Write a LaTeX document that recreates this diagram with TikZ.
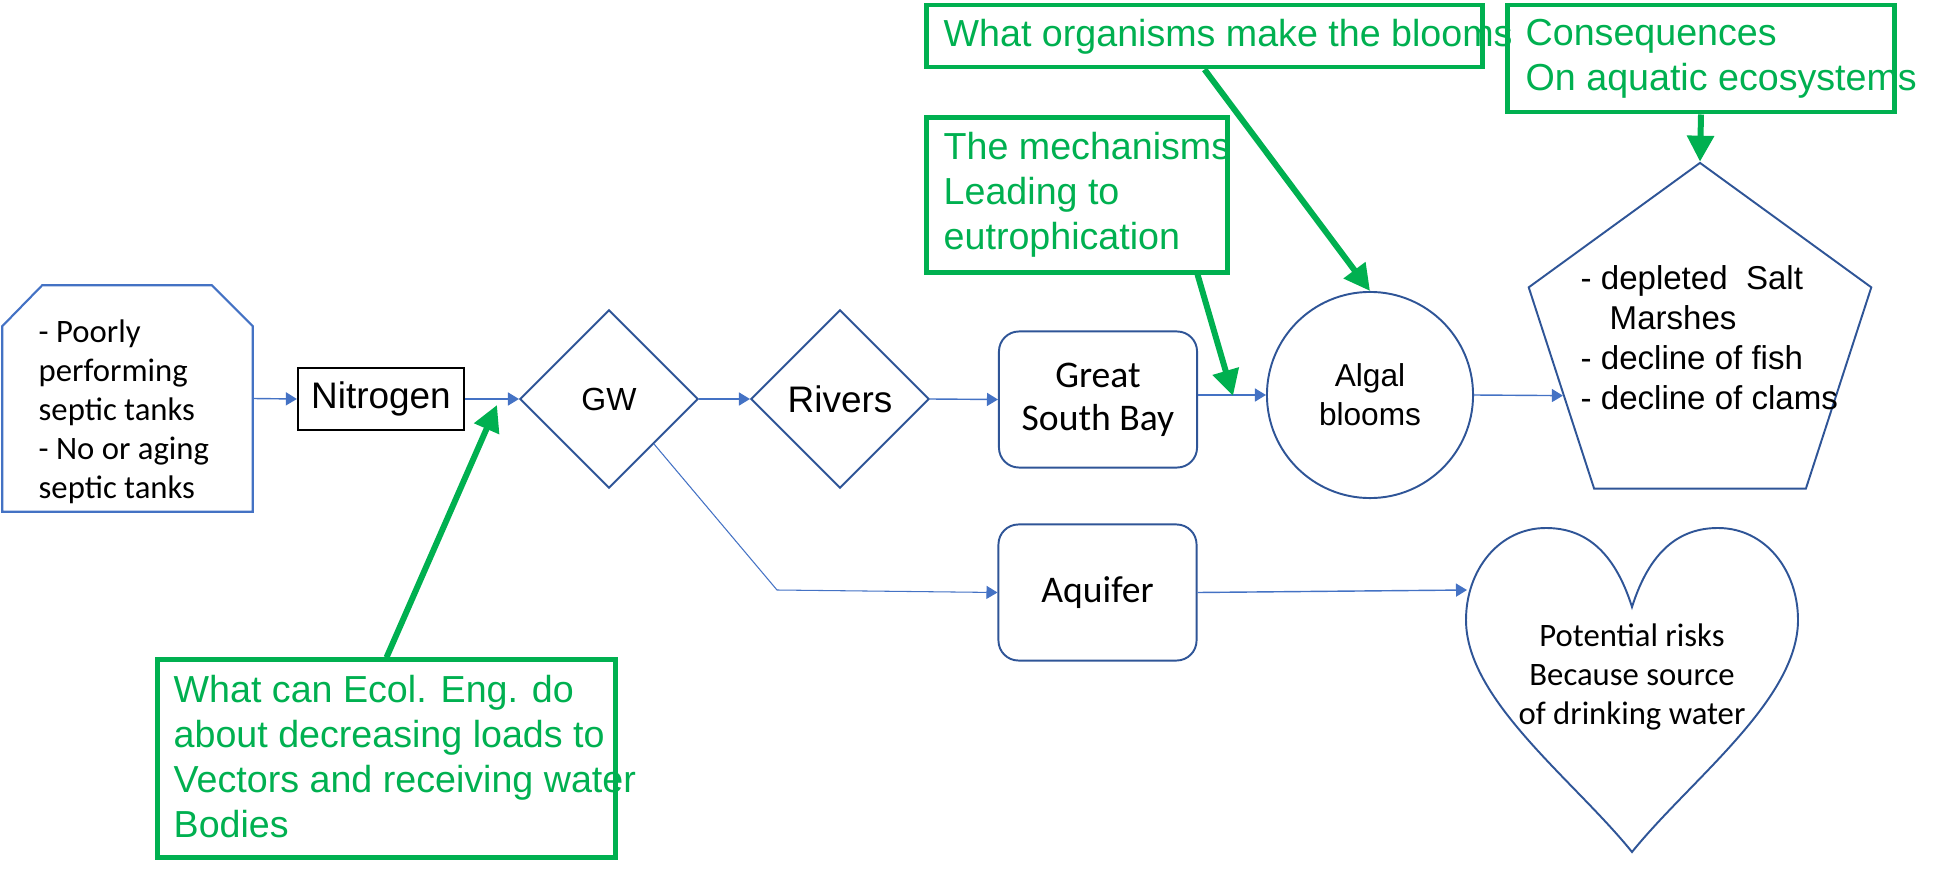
\documentclass[tikz,border=0pt]{standalone}
\usepackage{fontspec}
\setmainfont{Carlito}
\newfontfamily\arialfont{Liberation Sans}
\usetikzlibrary{arrows.meta,shapes.geometric}
\definecolor{shapeblue}{HTML}{2F5597}
\definecolor{linkblue}{HTML}{4472C4}
\definecolor{notegreen}{HTML}{00B050}
\tikzset{
  shapeline/.style={draw=shapeblue,line width=0.55pt},
  roundbox/.style={shapeline,rounded corners=0.2cm,minimum width=1.98cm,minimum height=1.36cm,inner sep=0pt,align=center,font=\fontsize{10.7pt}{12.2pt}\selectfont},
  waterbody/.style={shapeline,diamond,minimum width=1.78cm,minimum height=1.78cm,inner sep=0pt,font=\arialfont\fontsize{10.5pt}{12pt}\selectfont},
  flow/.style={draw=linkblue,line width=0.4pt,-{Triangle[length=1.1mm,width=1.3mm]}},
  notebox/.style={draw=notegreen,line width=1.4pt,inner sep=0pt},
  notetext/.style={text=notegreen,anchor=west,align=left,inner sep=0pt,font=\arialfont\fontsize{10.7pt}{12.8pt}\selectfont},
  notearrow/.style={draw=notegreen,line width=1.7pt,-{Triangle[length=2.6mm,width=2.6mm]}}
}
\begin{document}
\begin{tikzpicture}[x=0.01cm,y=-0.01cm]
\useasboundingbox (0,0) rectangle (1939,870);
\node (septic) [minimum width=2.49cm,minimum height=2.25cm,inner sep=0pt] at (127.5,398.5) {};
\draw[draw=linkblue,line width=0.6pt] (septic.south west) -- ([yshift=-0.41cm]septic.north west) -- ([xshift=0.4cm]septic.north west) -- ([xshift=-0.41cm]septic.north east) -- ([yshift=-0.41cm]septic.north east) -- (septic.south east) -- cycle;
\node (septictext) [anchor=west,align=left,inner sep=0pt,font=\fontsize{9.3pt}{11.1pt}\selectfont] at (38,412) {- Poorly\\performing\\septic tanks\\- No or aging\\septic tanks};
\node (nitrogen) [draw=black,line width=0.6pt,minimum width=1.66cm,minimum height=0.62cm,inner sep=0pt,font=\arialfont\fontsize{10.5pt}{12pt}\selectfont] at (381,399) {Nitrogen};
\node (gw) [waterbody,font=\arialfont\fontsize{9.1pt}{11pt}\selectfont] at (609,399) {GW};
\node (rivers) [waterbody] at (840,399) {Rivers};
\node (gsb) [roundbox] at (1098,399.5) {Great\\South Bay};
\node (algal) [shapeline,circle,minimum size=2.06cm,inner sep=0pt,align=center,font=\arialfont\fontsize{9pt}{11.1pt}\selectfont] at (1370,395) {Algal\\blooms};
\node (penta) [shapeline,regular polygon,regular polygon sides=5,minimum size=3.6cm,inner sep=0pt] at (1700,343) {};
\node (pentatext) [anchor=west,align=left,inner sep=0pt,font=\arialfont\fontsize{9.4pt}{11.4pt}\selectfont] at (1580,338) {- depleted\ \ Salt\\\hspace*{2.9mm}Marshes\\- decline of fish\\- decline of clams};
\node (aquifer) [roundbox] at (1097.5,592.5) {Aquifer};
\draw[shapeline] (1632,607) .. controls (1650,550) and (1680,528) .. (1718,528)
  .. controls (1765,528) and (1798,570) .. (1798,620)
  .. controls (1798,700) and (1690,780) .. (1632,852)
  .. controls (1574,780) and (1466,700) .. (1466,620)
  .. controls (1466,570) and (1499,528) .. (1546,528)
  .. controls (1584,528) and (1614,550) .. (1632,607) -- cycle;
\node (heart) [align=center,inner sep=0pt,font=\fontsize{9.3pt}{11.2pt}\selectfont] at (1632,677) {Potential risks\\Because source\\of drinking water};
\coordinate (gwbend) at (777,590);
\coordinate (heartin) at (1467,590);
\draw[flow] (septic.east) -- (nitrogen.west);
\draw[flow] (nitrogen.east) -- (gw.west);
\draw[flow] (gw.east) -- (rivers.west);
\draw[flow] (rivers.east) -- (gsb.west);
\draw[flow] (gsb.east |- algal.west) -- (algal.west);
\draw[flow] (algal.east) -- (penta.201);
\draw[flow,line width=0.3pt] (gw.south east) -- (gwbend) -- (aquifer.west);
\draw[flow] (aquifer.east) -- (heartin);
\node (ecol) [notebox,minimum width=4.57cm,minimum height=1.97cm] at (386.5,758.5) {};
\node (ecoltext) [notetext] at (173,757) {What can Ecol. Eng. do\\about decreasing loads to\\Vectors and receiving water\\Bodies};
\node (mech) [notebox,minimum width=3cm,minimum height=1.54cm] at (1077,195) {};
\node (mechtext) [notetext] at (943,195) {The mechanisms\\Leading to\\eutrophication};
\node (organisms) [notebox,minimum width=5.55cm,minimum height=0.62cm] at (1204.5,36) {};
\node (organismstext) [notetext] at (943,37) {What organisms make the blooms};
\node (conseq) [notebox,minimum width=3.86cm,minimum height=1.07cm] at (1701,58.5) {};
\node (conseqtext) [notetext] at (1525,59) {Consequences\\On aquatic ecosystems};
\coordinate (ntip) at (497,405);
\coordinate (btip) at (1233,396);
\draw[notearrow] (ecol.north) -- (ntip);
\draw[notearrow] ([xshift=-0.32cm]mech.south east) -- (btip);
\draw[notearrow] (organisms.south) -- (algal.north);
\draw[notearrow] (conseq.south) -- (penta.corner 1);
\end{tikzpicture}
\end{document}
